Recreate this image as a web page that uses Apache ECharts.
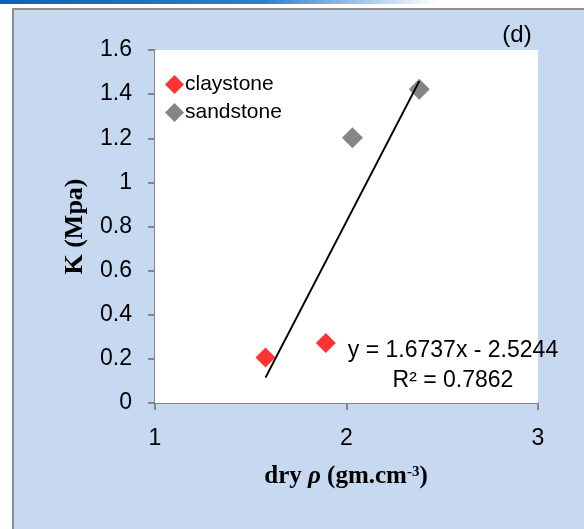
<!DOCTYPE html>
<html>
<head>
<meta charset="utf-8">
<script src="https://cdn.jsdelivr.net/npm/echarts@6/dist/echarts.min.js"></script>
<style>
  html, body { margin: 0; padding: 0; background: #fff; }
  #chart { width: 584px; height: 529px; }
</style>
</head>
<body>
<div id="chart"></div>
<script>
// values
const claystone = [[1.577, 0.206], [1.892, 0.272]];
const sandstone = [[2.031, 1.202], [2.380, 1.422]];
// linear fit y = 1.6737x - 2.5244 drawn over the data range
const trendX = [1.577, 2.380];
const trendY = [0.115, 1.459];
const equationText = ['y = 1.6737x - 2.5244', 'R² = 0.7862'];

const trendLine = trendX.map((x, i) => [x, trendY[i]]);

const chart = echarts.init(document.getElementById('chart'));

const option = {
  animation: false,
  backgroundColor: '#fff',
  textStyle: { fontFamily: 'Liberation Sans' },
  graphic: [
    {
      type: 'rect', z: -10, silent: true,
      shape: { x: 0, y: 0, width: 584, height: 4 },
      style: {
        fill: new echarts.graphic.LinearGradient(0, 0, 1, 0, [
          { offset: 0, color: '#0d62b5' },
          { offset: 0.45, color: '#2c7fd0' },
          { offset: 0.75, color: '#ffffff' }
        ])
      }
    },
    {
      type: 'rect', z: -10, silent: true,
      shape: { x: 13, y: 9, width: 580, height: 530 },
      style: { fill: '#c6d9f0', stroke: '#8e8e8e', lineWidth: 2 }
    },
    {
      type: 'text', x: 517, y: 35,
      style: { text: '(d)', font: '24px "Liberation Sans"', fill: '#000', align: 'center', verticalAlign: 'middle' }
    },
    {
      type: 'text', z: 100, x: 453, y: 336,
      style: {
        text: equationText.join('\n'), font: '23px "Liberation Sans"',
        fill: '#000', align: 'center', lineHeight: 30
      }
    },
    {
      type: 'text', x: 346, y: 477,
      style: {
        text: '{b|dry }{i|ρ}{b| (gm.cm}{s|-3}{b|)}',
        align: 'center', verticalAlign: 'middle',
        rich: {
          b: { font: 'bold 25px "Liberation Serif"', fill: '#000' },
          i: { font: 'italic bold 25px "Liberation Serif"', fill: '#000' },
          s: { font: 'bold 15px "Liberation Serif"', fill: '#000', verticalAlign: 'top', padding: [0, 0, 9, 0] }
        }
      }
    }
  ],
  legend: {
    orient: 'vertical',
    left: 160, top: 69,
    itemWidth: 19, itemHeight: 19,
    itemGap: 7,
    data: [
      { name: 'claystone', icon: 'diamond' },
      { name: 'sandstone', icon: 'diamond' }
    ],
    textStyle: { fontSize: 21, color: '#000', fontFamily: 'Liberation Sans', padding: [0, 0, 0, -4] }
  },
  grid: {
    left: 155, top: 50, right: 46, bottom: 126,
    show: true, backgroundColor: '#fff', borderWidth: 0, z: 1
  },
  xAxis: {
    type: 'value', min: 1, max: 3, interval: 1,
    splitLine: { show: false },
    axisLine: { lineStyle: { color: '#868686', width: 2 } },
    axisTick: { show: true, length: 7, lineStyle: { color: '#868686', width: 2 } },
    axisLabel: { fontSize: 23, color: '#000', margin: 24 }
  },
  yAxis: {
    type: 'value', min: 0, max: 1.6, interval: 0.2,
    name: 'K (Mpa)', nameLocation: 'middle', nameGap: 67, nameRotate: 90,
    nameTextStyle: { fontFamily: 'Liberation Serif', fontWeight: 'bold', fontSize: 26, color: '#000' },
    splitLine: { show: false },
    axisLine: { show: true, lineStyle: { color: '#868686', width: 2 } },
    axisTick: { show: true, length: 7, lineStyle: { color: '#868686', width: 2 } },
    axisLabel: { fontSize: 23, color: '#000', margin: 23 }
  },
  series: [
    {
      name: 'claystone', type: 'scatter', symbol: 'diamond', symbolSize: 20,
      itemStyle: { color: '#ff0000' }, data: claystone, z: 3
    },
    {
      name: 'sandstone', type: 'scatter', symbol: 'diamond', symbolSize: 21,
      itemStyle: { color: '#666666' }, data: sandstone, z: 3
    },
    {
      name: 'trend', type: 'line', showSymbol: false, symbol: 'none',
      lineStyle: { color: '#000', width: 2 }, data: trendLine, z: 4, silent: true
    }
  ]
};

chart.setOption(option);
</script>
</body>
</html>
